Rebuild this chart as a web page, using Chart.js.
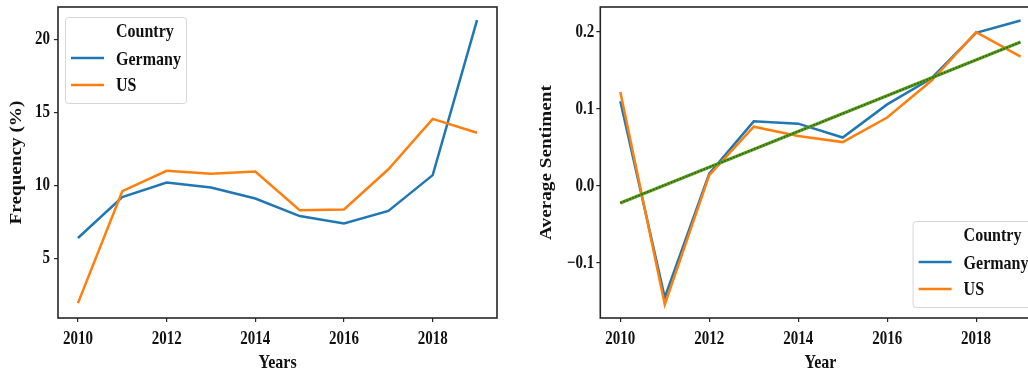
<!DOCTYPE html>
<html>
<head>
<meta charset="utf-8">
<script src="https://cdn.jsdelivr.net/npm/chart.js@4/dist/chart.umd.min.js"></script>
<style>
  html, body { margin: 0; padding: 0; background: #fff; overflow: hidden; }
  #wrap { position: relative; width: 1028px; height: 373px; overflow: hidden; }
  .panel { position: absolute; top: 0; }
</style>
</head>
<body>
<div id="wrap">
  <div class="panel" style="left:0px;width:520px;height:373px"><canvas id="freq" width="520" height="373"></canvas></div>
  <div class="panel" style="left:520px;width:540px;height:373px"><canvas id="sent" width="540" height="373"></canvas></div>
</div>
<script>
// Years on the x axis
const years = [2010, 2011, 2012, 2013, 2014, 2015, 2016, 2017, 2018, 2019];
const countries = ['Germany', 'US'];
const legendTitle = 'Country';

// Share of articles per year (%)
const freqGermany = [6.4, 9.2, 10.2, 9.85, 9.1, 7.9, 7.4, 8.25, 10.7, 21.3];
const freqUS      = [1.95, 9.6, 11.0, 10.8, 10.95, 8.3, 8.35, 11.1, 14.55, 13.6];

// Average sentiment per year
const sentGermany = [0.110, -0.145, 0.016, 0.084, 0.081, 0.063, 0.106, 0.140, 0.199, 0.215];
const sentUS      = [0.122, -0.154, 0.014, 0.077, 0.065, 0.057, 0.089, 0.137, 0.200, 0.168];

// Linear trend of the sentiment, first and last year
const trendYears = [2010, 2019];
const trendValues = [-0.022, 0.187];

// Tick labels
const xTicks = [2010, 2012, 2014, 2016, 2018];
const freqTicks = [5, 10, 15, 20];
const sentTicks = [-0.1, 0.0, 0.1, 0.2];
const sentTickLabels = ['\u22120.1', '0.0', '0.1', '0.2'];

const BLUE = '#1f77b4';
const ORANGE = '#ff7f0e';
const FONT = "'Liberation Serif', 'Times New Roman', 'DejaVu Serif', serif";
const TEXT_STRETCH = 1.2;   // glyphs are drawn taller than wide (condensed serif look)

const pts = (xs, ys) => xs.map((x, i) => ({ x: x, y: ys[i] }));

// Draw every label with a taller glyph shape; rotated labels are stretched along their length
const tallText = {
  id: 'tallText',
  beforeInit(chart) {
    const ctx = chart.ctx;
    const orig = ctx.fillText.bind(ctx);
    ctx.fillText = function (t, x, y, mw) {
      const m = this.getTransform();
      const rotated = Math.abs(m.b) > 1e-6;
      this.save();
      this.translate(x, y);
      if (rotated) this.scale(TEXT_STRETCH, 1); else this.scale(1, TEXT_STRETCH);
      if (mw === undefined) orig(t, 0, 0); else orig(t, 0, 0, mw);
      this.restore();
    };
  }
};

// Frame around the plot area
const framePlugin = {
  id: 'frame',
  afterDatasetsDraw(chart) {
    const a = chart.chartArea, ctx = chart.ctx;
    ctx.save();
    ctx.strokeStyle = '#262626';
    ctx.lineWidth = 1.6;
    ctx.strokeRect(a.left, a.top, a.right - a.left, a.bottom - a.top);
    ctx.restore();
  }
};

// Legend box with a title row and one row per country
const boxLegend = {
  id: 'boxLegend',
  afterDraw(chart, args, opts) {
    const a = chart.chartArea, ctx = chart.ctx;
    const w = 121, h = 86;
    const x = opts.corner === 'tl' ? a.left + 7 : a.right - 7 - w;
    const y = opts.corner === 'tl' ? a.top + 10 : a.bottom - 11 - h;
    ctx.save();
    ctx.fillStyle = 'rgba(255,255,255,0.85)';
    ctx.strokeStyle = '#d6d6d6';
    ctx.lineWidth = 1;
    ctx.beginPath();
    ctx.roundRect(x + 0.5, y + 0.5, w, h, 3);
    ctx.fill();
    ctx.stroke();
    ctx.font = 'bold 16px ' + FONT;
    ctx.fillStyle = '#111';
    ctx.textBaseline = 'middle';
    ctx.textAlign = 'left';
    ctx.fillText(legendTitle, x + 51, y + 15);
    const rows = [{ label: countries[0], color: BLUE, ty: 43, ly: 41 },
                  { label: countries[1], color: ORANGE, ty: 69, ly: 68 }];
    rows.forEach(r => {
      ctx.strokeStyle = r.color;
      ctx.lineWidth = 2.6;
      ctx.beginPath();
      ctx.moveTo(x + 6, y + r.ly);
      ctx.lineTo(x + 39, y + r.ly);
      ctx.stroke();
      ctx.fillStyle = '#111';
      ctx.fillText(r.label, x + 51, y + r.ty);
    });
    ctx.restore();
  }
};

function axisX(title) {
  return {
    type: 'linear', min: 2009.55, max: 2019.45,
    afterBuildTicks: s => { s.ticks = xTicks.map(v => ({ value: v })); },
    afterFit: s => { s.height = 55; s.paddingLeft = 0; s.paddingRight = 0; },
    grid: { display: true, drawOnChartArea: false, drawTicks: true, tickLength: 4, color: '#262626', lineWidth: 1.2 },
    border: { display: false },
    ticks: { color: '#111', font: { family: FONT, size: 15, weight: 'bold' }, padding: 8, maxRotation: 0,
             callback: v => String(v) },
    title: { display: true, text: title, color: '#111', font: { family: FONT, size: 16, weight: 'bold' },
             padding: { top: 0, bottom: 0 } }
  };
}

function axisY(opt) {
  return {
    type: 'linear', min: opt.min, max: opt.max,
    afterBuildTicks: s => { s.ticks = opt.ticks.map(v => ({ value: v })); },
    afterFit: s => { s.width = opt.width; s.paddingTop = 0; s.paddingBottom = 0; },
    grid: { display: true, drawOnChartArea: false, drawTicks: true, tickLength: 4, color: '#262626', lineWidth: 1.2 },
    border: { display: false },
    ticks: { color: '#111', font: { family: FONT, size: 15, weight: 'bold' }, padding: opt.pad,
             callback: opt.fmt },
    title: { display: true, text: opt.title, color: '#111', font: { family: FONT, size: 16, weight: 'bold' },
             padding: { top: opt.titlePad, bottom: 0 } }
  };
}

function line(label, data, color, order) {
  return { label, data, borderColor: color, backgroundColor: color, borderWidth: 2.5,
           pointRadius: 0, tension: 0, fill: false, order };
}

const common = {
  responsive: false, animation: false,
  plugins: { legend: { display: false }, tooltip: { enabled: false } }
};

new Chart(document.getElementById('freq'), {
  type: 'line',
  data: { datasets: [
    line(countries[0], pts(years, freqGermany), BLUE, 2),
    line(countries[1], pts(years, freqUS), ORANGE, 1)
  ] },
  options: Object.assign({}, common, {
    layout: { padding: { top: 7, right: 23, left: 0, bottom: 0 } },
    scales: {
      x: axisX('Years'),
      y: axisY({ min: 0.93, max: 22.2, ticks: freqTicks, width: 58, pad: 4, titlePad: 7,
                 title: 'Frequency (%)', fmt: v => String(v) })
    },
    plugins: Object.assign({}, common.plugins, { boxLegend: { corner: 'tl' } })
  }),
  plugins: [tallText, framePlugin, boxLegend]
});

new Chart(document.getElementById('sent'), {
  type: 'line',
  data: { datasets: [
    line(countries[0], pts(years, sentGermany), BLUE, 3),
    line(countries[1], pts(years, sentUS), ORANGE, 2),
    { label: 'trend', data: pts(trendYears, trendValues), borderColor: '#5a9e1e', borderWidth: 3.2,
      pointRadius: 0, fill: false, order: 1 },
    { label: 'trend-dots', data: pts(trendYears, trendValues), borderColor: '#2f5d12', borderWidth: 1.6,
      borderDash: [1.6, 1.6], pointRadius: 0, fill: false, order: 0 }
  ] },
  options: Object.assign({}, common, {
    layout: { padding: { top: 7, right: 19.4, left: 0, bottom: 0 } },
    scales: {
      x: axisX('Year'),
      y: axisY({ min: -0.1716, max: 0.2326, ticks: sentTicks, width: 80.3, pad: 2, titlePad: 17,
                 title: 'Average Sentiment',
                 fmt: v => { const i = sentTicks.findIndex(t => Math.abs(t - v) < 1e-9); return i >= 0 ? sentTickLabels[i] : ''; } })
    },
    plugins: Object.assign({}, common.plugins, { boxLegend: { corner: 'br' } })
  }),
  plugins: [tallText, framePlugin, boxLegend]
});
</script>
</body>
</html>
